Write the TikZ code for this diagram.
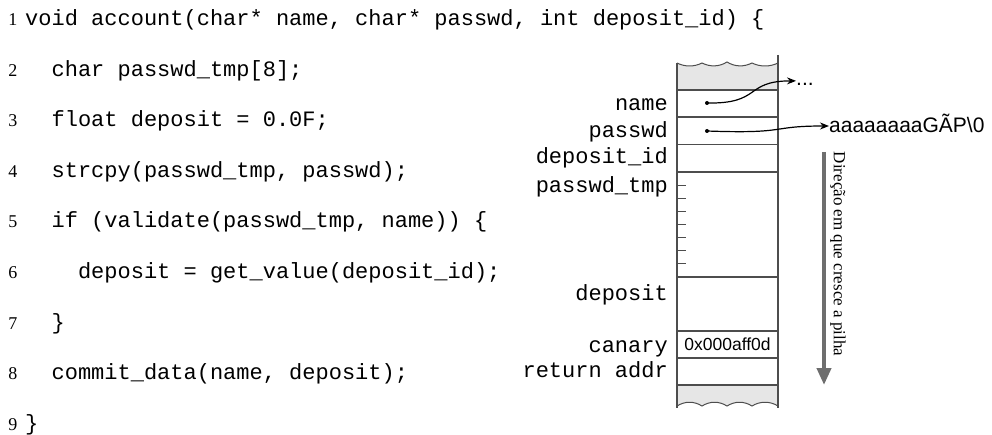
\documentclass[tikz,border=0pt]{standalone}
\usepackage{fontspec}
\setmainfont{Liberation Serif}
\setsansfont{Liberation Sans}
\setmonofont{Liberation Mono}
\usetikzlibrary{arrows.meta}

\definecolor{stackline}{HTML}{4D4D4D}
\definecolor{stackfill}{HTML}{E6E6E6}
\definecolor{dirgray}{HTML}{6E6E6E}

\begin{document}
\frenchspacing
\begin{tikzpicture}[x=1pt,y=-1pt,
  code/.style={anchor=base west, inner sep=0pt, font=\fontsize{22}{24}\selectfont\ttfamily},
  lineno/.style={anchor=base, inner sep=0pt, font=\fontsize{18}{20}\selectfont\rmfamily},
  varlabel/.style={anchor=base east, inner sep=0pt, font=\fontsize{22}{24}\selectfont\ttfamily},
  cell/.style={draw=stackline, line width=1.2pt, minimum width=101pt, inner sep=0pt, outer sep=0pt},
  stackedge/.style={draw=stackline, line width=1.2pt},
  tickmark/.style={draw=stackline, line width=1.1pt},
  ptrdot/.style={circle, fill=black, inner sep=0pt, minimum size=4pt},
  ptr/.style={draw=black, line width=1.2pt, -{Stealth[length=9pt,width=7pt]}},
  target/.style={inner sep=0pt, font=\fontsize{21}{24}\selectfont\sffamily},
  growth/.style={draw=dirgray, line width=4pt, -{Triangle[length=17pt,width=14pt]}},
]
\useasboundingbox (0,0) rectangle (992,435);

% ---- source code listing ----
\foreach \n in {1,...,9}
  \node[lineno] (ln\n) at (13, {26+(\n-1)*50.5}) {\n};
\node[code] (c1) at (25,26) {void account(char* name, char* passwd, int deposit\_id) \{};
\node[code] (c2) at (51.4,76.5) {char passwd\_tmp[8];};
\node[code] (c3) at (51.4,127) {float deposit = 0.0F;};
\node[code] (c4) at (51.4,177.5) {strcpy(passwd\_tmp, passwd);};
\node[code] (c5) at (51.4,228) {if (validate(passwd\_tmp, name)) \{};
\node[code] (c6) at (77.8,278.5) {deposit = get\_value(deposit\_id);};
\node[code] (c7) at (51.4,329) {\}};
\node[code] (c8) at (51.4,379.5) {commit\_data(name, deposit);};
\node[code] (c9) at (25,430) {\}};

% ---- torn ends of the stack ----
\fill[stackfill] (677,63)
  .. controls (685,67) and (694,67) .. (702,63)
  .. controls (710,67) and (719,67) .. (727,62)
  .. controls (735,67) and (744,67) .. (752,63)
  .. controls (760,67) and (770,67) .. (778,63)
  -- (778,90) -- (677,90) -- cycle;
\draw[stackline, line width=1pt] (677,63)
  .. controls (685,67) and (694,67) .. (702,63)
  .. controls (710,67) and (719,67) .. (727,62)
  .. controls (735,67) and (744,67) .. (752,63)
  .. controls (760,67) and (770,67) .. (778,63);
\fill[stackfill] (677,385) -- (778,385) -- (778,406)
  .. controls (770,401) and (760,401) .. (752,406)
  .. controls (744,401) and (735,401) .. (727,406)
  .. controls (719,401) and (710,401) .. (702,406)
  .. controls (694,401) and (685,401) .. (677,406) -- cycle;
\draw[stackline, line width=1pt] (778,406)
  .. controls (770,401) and (760,401) .. (752,406)
  .. controls (744,401) and (735,401) .. (727,406)
  .. controls (719,401) and (710,401) .. (702,406)
  .. controls (694,401) and (685,401) .. (677,406);

% ---- stack cells ----
\node[cell, minimum height=27pt,  anchor=north west] (sname)  at (677,90)  {};
\node[cell, minimum height=27.5pt,anchor=north west] (spass)  at (677,117) {};
\node[cell, minimum height=27.5pt,anchor=north west] (sdepid) at (677,144.5) {};
\node[cell, minimum height=105pt, anchor=north west] (stmp)   at (677,172) {};
\node[cell, minimum height=54pt,  anchor=north west] (sdep)   at (677,277) {};
\node[cell, minimum height=27pt,  anchor=north west] (scan)   at (677,331) {};
\node[cell, minimum height=27pt,  anchor=north west] (sret)   at (677,358) {};
\draw[stackedge] (677,63) -- (sname.north west);
\draw[stackedge] (778,55) -- (sname.north east);
\draw[stackedge] (sret.south west) -- (677,408);
\draw[stackedge] (sret.south east) -- (778,408);

% byte marks of passwd_tmp[8]
\foreach \k in {1,...,7}
  \draw[tickmark] (677,{172+\k*13.125}) -- ++(9,0);

\node[inner sep=0pt, font=\fontsize{17.5}{20}\selectfont\sffamily] (canval) at (scan.center) {0x000aff0d};

% ---- variable names ----
\node[varlabel] (lname) at (668,111) {name};
\node[varlabel] (lpass) at (668,138) {passwd};
\node[varlabel] (ldepid) at (668,164) {deposit\_id};
\node[varlabel] (ltmp) at (668,193) {passwd\_tmp};
\node[varlabel] (ldep) at (668,301) {deposit};
\node[varlabel] (lcan) at (668,352) {canary};
\node[varlabel] (lret) at (668,377) {return addr};

% ---- pointers ----
\node[ptrdot] (pname) at (707,103) {};
\node[ptrdot] (ppass) at (707,131) {};
\node[target, anchor=base west] (ell) at (796,86) {...};
\node[target, anchor=base west] (str) at (829,133) {aaaaaaaaGÃP\textbackslash 0};
\draw[ptr] (pname.center) .. controls (762,104) and (744,81) .. ([yshift=4pt]ell.west);
\draw[ptr] (ppass.center) .. controls (790,134) and (768,126) .. ([yshift=7pt]str.base west);

% ---- growth direction ----
\coordinate (gtop) at (824,152);
\coordinate (gbot) at (824,385);
\draw[growth] (gtop) -- (gbot);
\node[rotate=-90, inner sep=0pt, font=\fontsize{17}{19}\selectfont\rmfamily] (glabel) at (838,254) {Direção em que cresce a pilha};
\end{tikzpicture}
\end{document}
